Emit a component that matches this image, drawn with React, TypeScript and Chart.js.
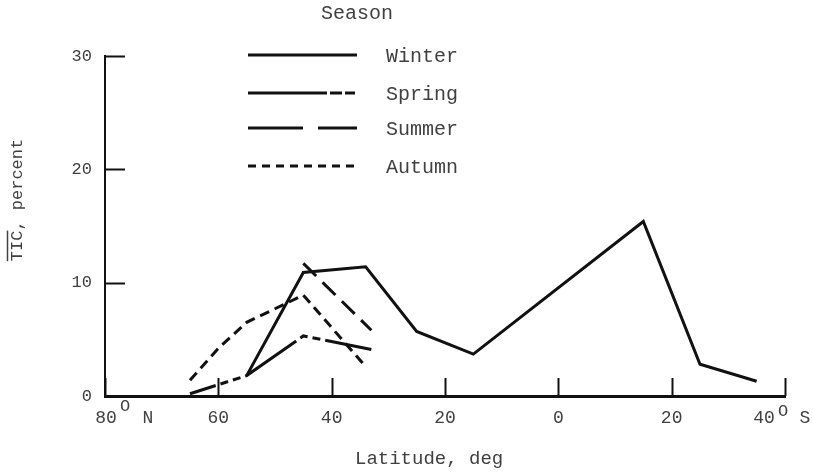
import React, { useEffect, useRef } from 'react';
import { Chart, registerables } from 'chart.js';

Chart.register(...registerables);

// Latitude in degrees: north positive, south negative
const latitudeTicks = [80, 60, 40, 20, 0, -20, -40];
const ticTicks = [0, 10, 20, 30];
const seasons = ['Winter', 'Spring', 'Summer', 'Autumn'];

const winterLat = [55, 45, 34, 25, 15, -15, -25, -35];
const winterTIC = [1.8, 10.9, 11.4, 5.7, 3.7, 15.4, 2.8, 1.3];

const springLat = [65, 55, 45, 33];
const springTIC = [0.2, 1.8, 5.3, 4.1];

const summerLat = [45, 33];
const summerTIC = [11.7, 5.8];

const autumnLat = [65, 60, 55, 50, 45, 34];
const autumnTIC = [1.4, 4.2, 6.5, 7.7, 8.9, 2.6];

const FONT = '"Liberation Mono", "DejaVu Sans Mono", monospace';
const INK = '#111111';
const TEXT = '#404040';

const chartDashes: number[][] = [[], [62, 5, 8, 5, 8, 5], [18, 9], [10, 6]];
const legendDashes: number[][] = [[], [79, 3, 12, 3, 10, 60], [55, 15, 40, 60], [8, 6]];

const toPoints = (lat: number[], tic: number[]) => lat.map((x, i) => ({ x, y: tic[i] }));

const decorPlugin = {
  id: 'decor',
  afterDraw(chart: any) {
    const ctx: CanvasRenderingContext2D = chart.ctx;
    const xs = chart.scales.x;
    const ys = chart.scales.y;
    const area = chart.chartArea;
    ctx.save();
    ctx.strokeStyle = INK;
    ctx.lineWidth = 2;
    ctx.setLineDash([]);
    const y0 = ys.getPixelForValue(0);
    // inward x ticks
    latitudeTicks.forEach((v) => {
      const px = Math.round(xs.getPixelForValue(v)) + 0.5;
      ctx.beginPath();
      ctx.moveTo(px, y0);
      ctx.lineTo(px, y0 - 18);
      ctx.stroke();
    });
    // inward y ticks
    ticTicks.slice(1).forEach((v) => {
      const py = Math.round(ys.getPixelForValue(v)) + 0.5;
      ctx.beginPath();
      ctx.moveTo(area.left, py);
      ctx.lineTo(area.left + 20, py);
      ctx.stroke();
    });

    ctx.fillStyle = TEXT;
    ctx.textBaseline = 'middle';

    // end labels of the latitude axis
    const pxN = xs.getPixelForValue(latitudeTicks[0]);
    const pxS = xs.getPixelForValue(latitudeTicks[latitudeTicks.length - 1]);
    ctx.font = `18px ${FONT}`;
    ctx.textAlign = 'center';
    ctx.fillText(String(Math.abs(latitudeTicks[0])), pxN + 1, 418);
    ctx.fillText(String(Math.abs(latitudeTicks[latitudeTicks.length - 1])), pxS - 21, 418);
    ctx.fillText('N', pxN + 43, 418);
    ctx.fillText('S', pxS + 20, 418);
    ctx.font = `17px ${FONT}`;
    ctx.fillText('O', pxN + 20, 406);
    ctx.fillText('O', pxS - 2, 411);

    // x title
    ctx.font = `19px ${FONT}`;
    ctx.textAlign = 'left';
    ctx.fillText('Latitude, deg', 355, 459);

    // y title with overline on TIC
    ctx.save();
    ctx.translate(17, 200);
    ctx.rotate(-Math.PI / 2);
    ctx.font = `17px ${FONT}`;
    ctx.textAlign = 'center';
    const full = 'TIC, percent';
    ctx.fillText(full, 0, 0);
    const w = ctx.measureText(full).width;
    const wt = ctx.measureText('TIC').width;
    ctx.strokeStyle = TEXT;
    ctx.lineWidth = 1.5;
    ctx.beginPath();
    ctx.moveTo(-w / 2, -9.5);
    ctx.lineTo(-w / 2 + wt, -9.5);
    ctx.stroke();
    ctx.restore();

    // legend
    ctx.font = `20px ${FONT}`;
    ctx.textAlign = 'center';
    ctx.fillText('Season', 357, 14);
    const rows = [55, 93, 128, 166];
    ctx.textAlign = 'left';
    seasons.forEach((s, i) => {
      ctx.strokeStyle = INK;
      ctx.lineWidth = 3;
      ctx.setLineDash(legendDashes[i]);
      ctx.beginPath();
      ctx.moveTo(248, rows[i]);
      ctx.lineTo(357, rows[i]);
      ctx.stroke();
      ctx.setLineDash([]);
      ctx.fillText(s, 386, rows[i] + 2);
    });
    ctx.restore();
  },
};

export default function App() {
  const ref = useRef<HTMLCanvasElement | null>(null);
  useEffect(() => {
    if (!ref.current) return;
    const series = [
      toPoints(winterLat, winterTIC),
      toPoints(springLat, springTIC),
      toPoints(summerLat, summerTIC),
      toPoints(autumnLat, autumnTIC),
    ];
    const chart = new Chart(ref.current, {
      type: 'line',
      data: {
        datasets: seasons.map((s, i) => ({
          label: s,
          data: series[i],
          borderColor: INK,
          borderWidth: 3,
          borderDash: chartDashes[i],
          borderDashOffset: i === 1 ? 35 : 0,
          pointRadius: 0,
          tension: 0,
          fill: false,
        })),
      },
      options: {
        animation: false,
        responsive: false,
        devicePixelRatio: 1,
        layout: { padding: { left: 0, top: 56, right: 28, bottom: 0 } },
        plugins: { legend: { display: false }, tooltip: { enabled: false } },
        scales: {
          x: {
            type: 'linear',
            reverse: true,
            min: -40,
            max: 80,
            afterBuildTicks: (s: any) => {
              s.ticks = latitudeTicks.map((v) => ({ value: v }));
            },
            afterFit: (s: any) => {
              s.height = 77;
            },
            ticks: {
              autoSkip: false,
              maxRotation: 0,
              padding: 11,
              color: TEXT,
              font: { family: FONT, size: 18 },
              callback: (v: any) =>
                v === latitudeTicks[0] || v === latitudeTicks[latitudeTicks.length - 1]
                  ? ''
                  : String(Math.abs(Number(v))),
            },
            grid: { display: false, drawTicks: false },
            border: { display: true, color: INK, width: 3 },
          },
          y: {
            min: 0,
            max: 30,
            afterBuildTicks: (s: any) => {
              s.ticks = ticTicks.map((v) => ({ value: v }));
            },
            afterFit: (s: any) => {
              s.width = 105;
            },
            ticks: {
              padding: 13,
              color: TEXT,
              font: { family: FONT, size: 17 },
            },
            grid: { display: false, drawTicks: false },
            border: { display: true, color: INK, width: 2 },
          },
        },
      },
      plugins: [decorPlugin],
    } as any);
    return () => chart.destroy();
  }, []);
  return (
    <div style={{ position: 'absolute', left: 0, top: 0, width: 813, height: 473, background: '#fff' }}>
      <canvas ref={ref} width={813} height={473} style={{ display: 'block' }} />
    </div>
  );
}
